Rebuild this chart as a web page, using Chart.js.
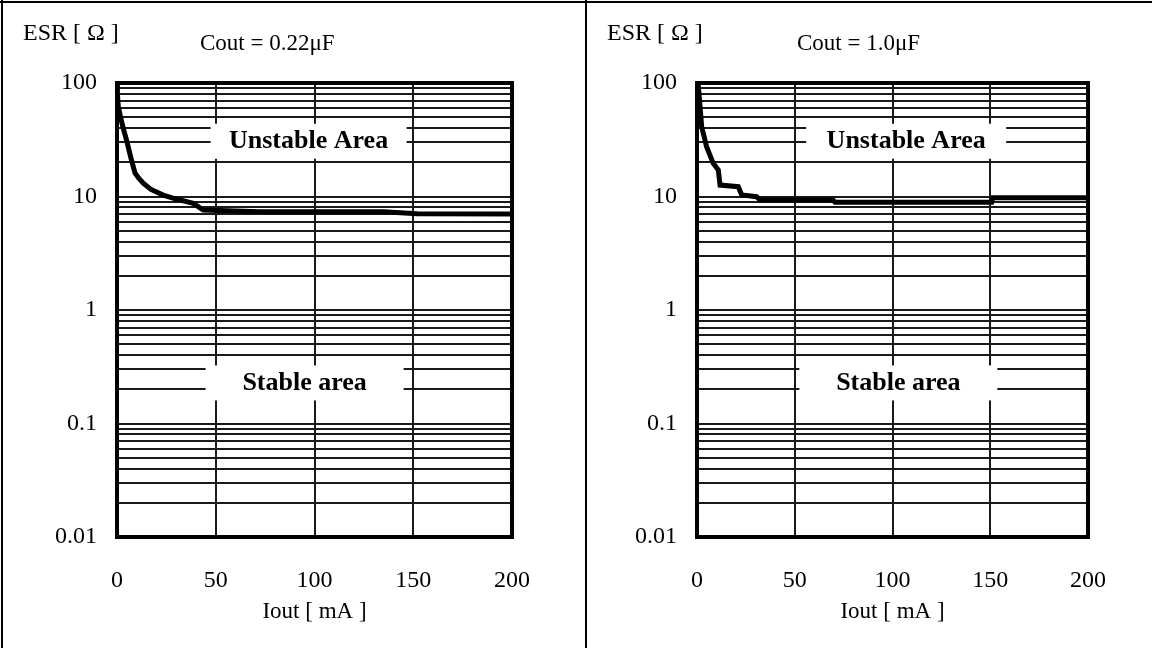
<!DOCTYPE html>
<html>
<head>
<meta charset="utf-8">
<script src="https://cdn.jsdelivr.net/npm/chart.js@4"></script>
<style>
html, body { margin: 0; padding: 0; background: #fff; }
#page { position: relative; width: 1152px; height: 648px; overflow: hidden; }
#page canvas { position: absolute; top: 0; }
.rule { position: absolute; background: #000; }
</style>
</head>
<body>
<div id="page">
  <div class="rule" style="left:0;top:1px;width:1152px;height:2px"></div>
  <div class="rule" style="left:1px;top:0;width:2px;height:648px"></div>
  <div class="rule" style="left:585px;top:0;width:2px;height:648px"></div>
  <canvas id="leftChart" width="586" height="648" style="left:0"></canvas>
  <canvas id="rightChart" width="566" height="648" style="left:586px"></canvas>
</div>
<script>
// tick labels
const ioutTicks = [0, 50, 100, 150, 200];
const esrTicks = [0.01, 0.1, 1, 10, 100];
const esrLabels = ['0.01', '0.1', '1', '10', '100'];

// Cout = 0.22uF curve
const leftIout = [0, 0.2, 0.66, 2, 3.5, 4.9, 7, 9.1, 11, 13.3, 17, 23.4, 30, 38.6, 43.7, 72.4, 135, 152, 200];
const leftEsr  = [100, 80, 62, 48, 38, 31, 22, 16.1, 14.5, 13.1, 11.6, 10.3, 9.5, 8.7, 7.6, 7.35, 7.35, 7.05, 7.0];

// Cout = 1.0uF curve
const rightIout = [0, 0.66, 2.4, 4.9, 8.3, 10.9, 11.8, 21.1, 22.9, 30.5, 32.2, 69.6, 70.6, 150.7, 151.2, 200];
const rightEsr  = [100, 96, 41, 27.5, 19.6, 17.1, 12.6, 12.2, 10.3, 9.96, 9.3, 9.3, 8.9, 8.9, 9.75, 9.75];

// minor log grid 1..9 per decade
const esrGrid = [];
esrTicks.slice(0, -1).forEach(d => {
    for (let m = 1; m <= 9; m++) esrGrid.push(m === 1 ? d : d * m);
});
esrGrid.push(100);

const serif = "'Liberation Serif', 'Times New Roman', serif";

const areaPlugin = {
    id: 'areas',
    beforeDatasetsDraw(chart, args, opts) {
        const ctx = chart.ctx;
        const xs = chart.scales.x, ys = chart.scales.y;
        ctx.save();
        ctx.font = 'bold 26px ' + serif;
        ctx.textAlign = 'center';
        ctx.textBaseline = 'middle';
        opts.labels.forEach(l => {
            const cx = xs.getPixelForValue(l.x);
            const cy = ys.getPixelForValue(l.y);
            ctx.fillStyle = '#fff';
            ctx.fillRect(cx - l.w / 2, cy - 17, l.w, 35);
            ctx.fillStyle = '#000';
            ctx.fillText(l.text, cx, cy + 1);
        });
        ctx.restore();
    },
    afterDraw(chart, args, opts) {
        const ctx = chart.ctx;
        const a = chart.chartArea;
        ctx.save();
        ctx.strokeStyle = '#000';
        ctx.lineWidth = 4;
        ctx.strokeRect(a.left, a.top, a.right - a.left, a.bottom - a.top);
        ctx.fillStyle = '#000';
        ctx.font = '24px ' + serif;
        ctx.textBaseline = 'alphabetic';
        ctx.textAlign = 'left';
        ctx.fillText('ESR [ Ω ]', opts.esrX, 40);
        ctx.font = '23px ' + serif;
        ctx.fillText(opts.cout, opts.coutX, 50);
        ctx.textAlign = 'center';
        ctx.textBaseline = 'middle';
        ctx.fillText('Iout [ mA ]', (a.left + a.right) / 2, 612);
        ctx.restore();
    }
};

function makeChart(id, iout, esr, cfg) {
    const ctx = document.getElementById(id).getContext('2d');
    return new Chart(ctx, {
        type: 'scatter',
        data: {
            datasets: [{
                data: iout.map((x, i) => ({ x: x, y: esr[i] })),
                showLine: true,
                borderColor: '#000',
                borderWidth: 5,
                pointRadius: 0,
                tension: 0
            }]
        },
        options: {
            responsive: false,
            animation: false,
            devicePixelRatio: 1,
            layout: { padding: { left: 0, top: 83, right: cfg.padRight, bottom: 0 } },
            plugins: {
                legend: { display: false },
                tooltip: { enabled: false },
                areas: { labels: cfg.labels, esrX: cfg.esrX, cout: cfg.cout, coutX: cfg.coutX }
            },
            scales: {
                x: {
                    type: 'linear',
                    min: 0, max: 200,
                    afterBuildTicks: s => { s.ticks = ioutTicks.map(v => ({ value: v })); },
                    afterFit: s => { s.height = 111; },
                    ticks: { color: '#000', font: { family: serif, size: 24 }, padding: 29, maxRotation: 0, autoSkip: false },
                    grid: { color: '#1a1a1a', lineWidth: 2, drawTicks: false },
                    border: { display: false }
                },
                y: {
                    type: 'logarithmic',
                    min: 0.01, max: 100,
                    afterBuildTicks: s => { s.ticks = esrGrid.map(v => ({ value: v })); },
                    afterFit: s => { s.width = cfg.yWidth; },
                    ticks: {
                        color: '#000', font: { family: serif, size: 24 }, padding: 20, autoSkip: false,
                        callback: v => { const i = esrTicks.indexOf(v); return i >= 0 ? esrLabels[i] : ''; }
                    },
                    grid: { color: '#1a1a1a', lineWidth: 2, drawTicks: false },
                    border: { display: false }
                }
            }
        },
        plugins: [areaPlugin]
    });
}

makeChart('leftChart', leftIout, leftEsr, {
    padRight: 74, yWidth: 117, esrX: 23, cout: 'Cout = 0.22μF', coutX: 200,
    labels: [
        { text: 'Unstable Area', x: 97, y: 31, w: 196 },
        { text: 'Stable area', x: 95, y: 0.23, w: 198 }
    ]
});

makeChart('rightChart', rightIout, rightEsr, {
    padRight: 64, yWidth: 111, esrX: 21, cout: 'Cout = 1.0μF', coutX: 211,
    labels: [
        { text: 'Unstable Area', x: 107, y: 31, w: 200 },
        { text: 'Stable area', x: 103, y: 0.23, w: 198 }
    ]
});
</script>
</body>
</html>
